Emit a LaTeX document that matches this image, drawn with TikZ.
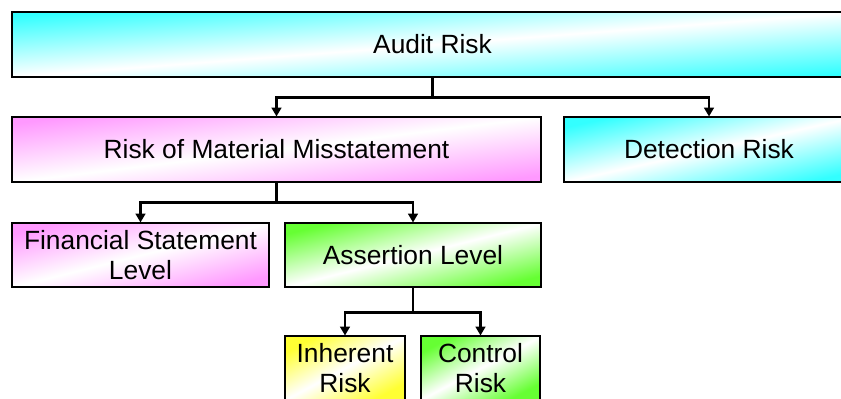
\documentclass[tikz,border=0pt]{standalone}
\usepackage{fontspec}
\setmainfont{Liberation Sans}
\usetikzlibrary{arrows.meta,positioning}
\definecolor{aqua}{HTML}{33FFFF}
\definecolor{rose}{HTML}{FF99FF}
\definecolor{lime}{HTML}{66FF33}
\definecolor{lemon}{HTML}{FFFF33}

\begin{document}
\begin{tikzpicture}[x=1cm,y=1cm,font=\fontsize{15}{17}\selectfont,
      b/.style={draw=black,line width=0.6pt,inner sep=0pt,align=center,
                minimum height=1.3cm},
      % corner-to-corner fade: angle = atan(height/width)
      sh/.style 2 args={left color=#1,right color=#1,middle color=white,
                        shading angle=#2},
      link/.style={-{Triangle[width=5.5pt,length=5pt]},line width=1.2pt}]
    \useasboundingbox (0,0) rectangle (16.82,7.96);
    % top
    \node[b,sh={aqua}{4.4},minimum width=16.82cm] (audit) at (8.65,7.07) {Audit Risk};
    % second row
    \node[b,sh={rose}{7},minimum width=10.58cm] (rmm) at (5.53,4.97) {Risk of Material Misstatement};
    \node[b,sh={aqua}{12.6},minimum width=5.8cm] (det) at (14.18,4.97) {Detection Risk};
    % third row
    \node[b,sh={rose}{14},minimum width=5.14cm,minimum height=1.28cm] (fsl) at (2.81,2.86)
      {Financial Statement\\ Level};
    \node[b,sh={lime}{14},minimum width=5.12cm,minimum height=1.28cm] (al) at (8.26,2.86)
      {Assertion Level};
    % bottom
    \node[b,sh={lemon}{28},minimum width=2.4cm,minimum height=1.28cm] (ir) at (6.9,0.6)
      {Inherent\\ Risk};
    \node[b,sh={lime}{28},minimum width=2.38cm,minimum height=1.28cm] (cr) at (9.61,0.6)
      {Control\\ Risk};

    \draw[link] (audit.south) -- ++(0,-0.4) -| (rmm.north);
    \draw[link] (audit.south) -- ++(0,-0.4) -| (det.north);
    \draw[link] (rmm.south) -- ++(0,-0.4) -| (fsl.north);
    \draw[link] (rmm.south) -- ++(0,-0.4) -| (al.north);
    \draw[link] (al.south) -- ++(0,-0.5) -| (ir.north);
    \draw[link] (al.south) -- ++(0,-0.5) -| (cr.north);
  \end{tikzpicture}
\end{document}
